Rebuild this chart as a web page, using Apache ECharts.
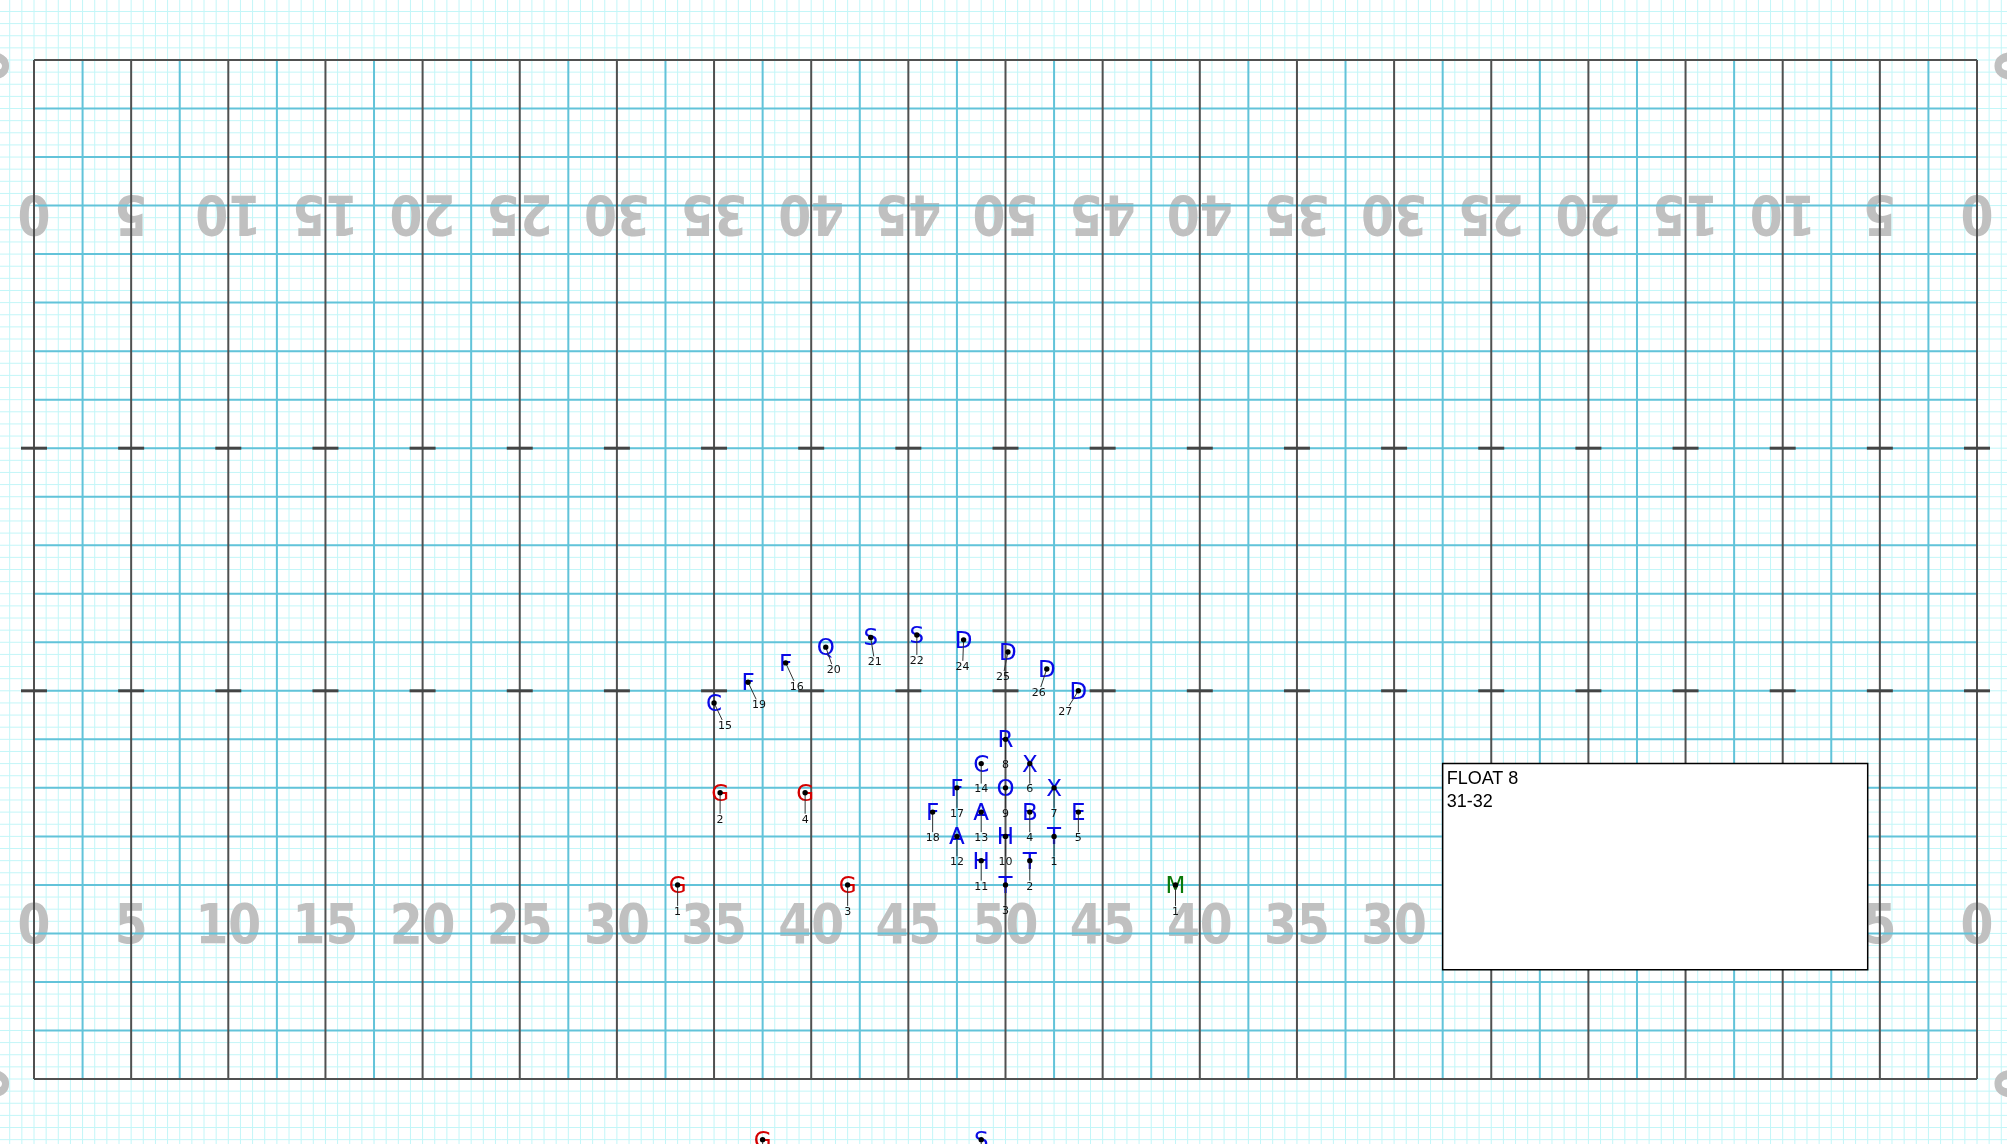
<!DOCTYPE html>
<html>
<head>
<meta charset="utf-8">
<script src="https://cdn.jsdelivr.net/npm/echarts@6/dist/echarts.min.js"></script>
<style>
html,body{margin:0;padding:0;background:#ffffff;}
#chart{width:2007px;height:1144px;}
</style>
</head>
<body>
<div id="chart"></div>
<script>
// ---------- field data (units: 8-to-5 steps) ----------
const yardLineSteps = [0,8,16,24,32,40,48,56,64,72,80,88,96,104,112,120,128,136,144,152,160];
const yardLabels = ['0','5','10','15','20','25','30','35','40','45','50','45','40','35','30','25','20','15','10','5','0'];
const hashSteps = [32, 52];
const fieldLength = 160;
const fieldDepth = 84;
const frontNumberRow = 12.85;
const backNumberRow = 71.15;
const edgeLabelX = [-3.3, -3.3, 163.6, 163.6];
const edgeLabelY = [83.5, -0.4, 83.5, -0.4];

// ---------- performers ----------
const blueSymbols = ['T','T','T','B','E','X','X','R','O','H','H','A','A','C','C','F','F','F','F','Q','S','S','S','D','D','D','D'];
const blueNumbers = [1,2,3,4,5,6,7,8,9,10,11,12,13,14,15,16,17,18,19,20,21,22,23,24,25,26,27];
const blueX = [84,82,80,82,86,82,84,80,80,80,78,76,78,78,56,61.9,76,74,58.8,65.2,68.9,72.7,78,76.55,80.2,83.4,86];
const blueY = [20,18,16,22,22,26,24,28,24,20,18,20,22,26,31,34.3,24,22,32.7,35.6,36.4,36.6,-5,36.2,35.2,33.8,32];

const redSymbols = ['G','G','G','G','G'];
const redNumbers = [1,2,3,4,5];
const redX = [53,56.5,67,63.5,60];
const redY = [16,23.6,16,23.6,-5];

const greenSymbols = ['M'];
const greenNumbers = [1];
const greenX = [94];
const greenY = [16];

// label offsets (pixels) of the number tags — layout only
const blueLabelOffsets = [[0,26],[0,26],[0,26],[0,26],[0,26],[0,26],[0,26],[0,26],[0,26],[0,26],[0,26],[0,26],[0,26],[0,26],
  [11,23],[11,24],[0,26],[0,26],[11,23],[8,23],[4,25],[0,26],[0,26],[-1,27],[-5,25],[-8,24],[-13,21]];

// ---------- text box ----------
const boxCorners = [116, 26, 151, 9];
const boxLines = ['FLOAT 8', '31-32'];

// ---------- view ----------
const pxPerStepX = 1943 / 160;
const pxPerStepY = 1019 / 84;
const xMin = -34 / pxPerStepX;
const xMax = (2007 - 34) / pxPerStepX;
const yMin = -(1144 - 1079) / pxPerStepY;
const yMax = 84 + 60 / pxPerStepY;

// ---------- build line lists ----------
const lightLines = [];
for (let x = Math.ceil(xMin); x <= Math.floor(xMax); x++) lightLines.push([x, yMin, x, yMax]);
for (let y = Math.ceil(yMin); y <= Math.floor(yMax); y++) lightLines.push([xMin, y, xMax, y]);

const fieldLines = [];
for (let x = 4; x < fieldLength; x += 8) fieldLines.push([x, 0, x, fieldDepth, 1]);
for (let y = 4; y < fieldDepth; y += 4) fieldLines.push([0, y, fieldLength, y, 1]);
yardLineSteps.forEach(x => fieldLines.push([x, 0, x, fieldDepth, 2]));
fieldLines.push([0, 0, fieldLength, 0, 2]);
fieldLines.push([0, fieldDepth, fieldLength, fieldDepth, 2]);
yardLineSteps.forEach(x => hashSteps.forEach(h => fieldLines.push([x - 1.07, h, x + 1.07, h, 3])));

const lineStyles = [
  {stroke:'#c3f6f8', lineWidth:1},
  {stroke:'#62c3d9', lineWidth:2},
  {stroke:'#505050', lineWidth:2},
  {stroke:'#444444', lineWidth:3}
];

function lineRender(params, api) {
  const p1 = api.coord([api.value(0), api.value(1)]);
  const p2 = api.coord([api.value(2), api.value(3)]);
  const kind = api.value(4) || 0;
  return {type:'line', shape:{x1:p1[0], y1:p1[1], x2:p2[0], y2:p2[1]}, style: lineStyles[kind], silent:true};
}

const numberData = [];
yardLineSteps.forEach((x, i) => {
  numberData.push([x, frontNumberRow, 0, yardLabels[i]]);
  numberData.push([x, backNumberRow, 1, yardLabels[i]]);
});
edgeLabelX.forEach((x, i) => numberData.push([x, edgeLabelY[i], 2, '0']));

function numberRender(params, api) {
  const d = numberData[params.dataIndex];
  const p = api.coord([d[0], d[1]]);
  const rot = d[2] === 1 ? Math.PI : (d[2] === 2 ? Math.PI / 2 : 0);
  const dy = d[2] === 1 ? -6 : (d[2] === 0 ? 6 : 0);
  return {type:'text', x:p[0], y:p[1] + dy, rotation:rot, scaleX:0.86,
    style:{text:d[3], fill:'#c0c0c0', font:'bold 55px "DejaVu Sans", sans-serif', align:'center', verticalAlign:'middle'}};
}

function makePerformerSeries(xs, ys, syms, nums, color, offsets) {
  const data = xs.map((x, i) => [x, ys[i]]);
  return {
    type:'custom', coordinateSystem:'cartesian2d', z:10, clip:false,
    data: data,
    renderItem: function (params, api) {
      const i = params.dataIndex;
      const p = api.coord([api.value(0), api.value(1)]);
      const off = offsets ? offsets[i] : [0, 27];
      const t = (off[1] - 6) / off[1];
      return {type:'group', children:[
        {type:'text', x:p[0], y:p[1] + 2, style:{text:syms[i], fill:color, font:'23px "DejaVu Sans", sans-serif', align:'center', verticalAlign:'middle'}},
        {type:'line', shape:{x1:p[0], y1:p[1], x2:p[0] + off[0] * t, y2:p[1] + off[1] - 6}, style:{stroke:'#333', lineWidth:1}},
        {type:'circle', shape:{cx:p[0], cy:p[1], r:2.7}, style:{fill:'#000'}},
        {type:'text', x:p[0] + off[0], y:p[1] + off[1], style:{text:String(nums[i]), fill:'#111', font:'11px "DejaVu Sans", sans-serif', align:'center', verticalAlign:'middle'}}
      ]};
    }
  };
}

const chart = echarts.init(document.getElementById('chart'), null, {renderer:'canvas'});
chart.setOption({
  animation:false,
  backgroundColor:'#ffffff',
  grid:{left:0, right:0, top:0, bottom:0},
  xAxis:{type:'value', min:xMin, max:xMax, show:false},
  yAxis:{type:'value', min:yMin, max:yMax, show:false},
  series:[
    {type:'custom', coordinateSystem:'cartesian2d', z:1, clip:false, data:lightLines.map(l => l.concat([0])), renderItem:lineRender},
    {type:'custom', coordinateSystem:'cartesian2d', z:2, clip:false, data:numberData.map(d => [d[0], d[1]]), renderItem:numberRender},
    {type:'custom', coordinateSystem:'cartesian2d', z:3, clip:false, data:fieldLines, renderItem:lineRender},
    {type:'custom', coordinateSystem:'cartesian2d', z:4, clip:false, data:[boxCorners],
      renderItem:function (params, api) {
        const a = api.coord([api.value(0), api.value(1)]);
        const b = api.coord([api.value(2), api.value(3)]);
        const children = [{type:'rect', shape:{x:a[0], y:a[1], width:b[0] - a[0], height:b[1] - a[1]}, style:{fill:'#ffffff', stroke:'#000000', lineWidth:1.5}}];
        boxLines.forEach((s, k) => children.push({type:'text', x:a[0] + 4, y:a[1] + 15 + k * 23,
          style:{text:s, fill:'#000', font:'18px "Liberation Sans", Arial, sans-serif', align:'left', verticalAlign:'middle'}}));
        return {type:'group', children:children};
      }},
    makePerformerSeries(blueX, blueY, blueSymbols, blueNumbers, '#0a0ae6', blueLabelOffsets),
    makePerformerSeries(redX, redY, redSymbols, redNumbers, '#d40000', null),
    makePerformerSeries(greenX, greenY, greenSymbols, greenNumbers, '#0a7a0a', null)
  ]
});
</script>
</body>
</html>
